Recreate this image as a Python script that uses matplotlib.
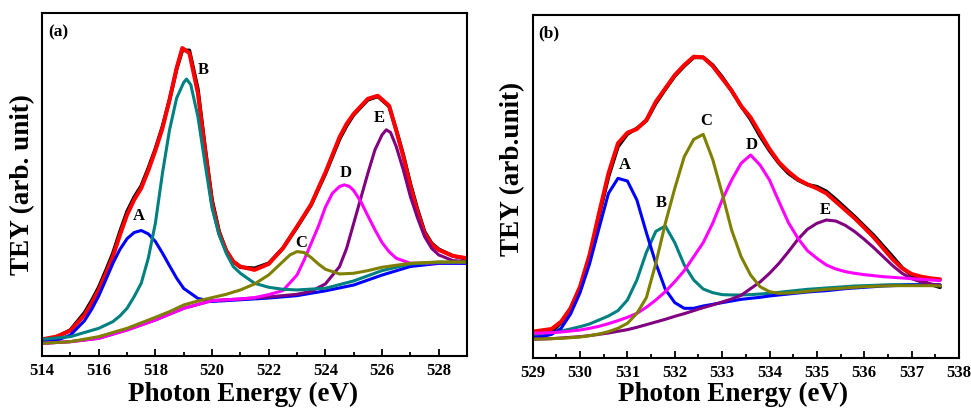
import matplotlib
matplotlib.use("Agg")
import matplotlib.pyplot as plt
from matplotlib.ticker import MultipleLocator

plt.rcParams['font.family'] = ['Liberation Serif', 'DejaVu Serif']
plt.rcParams['font.weight'] = 'bold'
plt.rcParams['lines.solid_joinstyle'] = 'round'
plt.rcParams['lines.solid_capstyle'] = 'round'

# ---------------- panel (a): Fe L-edge region ----------------
a_fit_x = [514, 514.5, 515, 515.5, 515.75, 516, 516.25, 516.5, 516.75, 517, 517.25, 517.5,
           517.75, 518, 518.25, 518.5, 518.75, 518.95, 519.2, 519.5, 519.75, 520, 520.25,
           520.5, 520.75, 521, 521.5, 522, 522.5, 523, 523.5, 523.75, 524, 524.25, 524.5,
           524.75, 525, 525.5, 525.85, 526.25, 526.5, 526.75, 527, 527.25, 527.5, 527.75,
           528, 528.5, 529]
a_data = [4.47, 5.45, 7.59, 12.65, 16.15, 20.04, 24.90, 29.96, 36.28, 42.12, 46.30, 49.61,
          54.77, 60.41, 66.93, 74.71, 83.66, 89.11, 89.11, 77.82, 61.09, 45.53, 36.28,
          30.74, 27.53, 25.88, 25.58, 27.04, 31.42, 37.55, 44.07, 48.64, 53.11, 58.17,
          63.23, 67.12, 70.33, 74.71, 75.68, 72.76, 65.95, 58.66, 50.19, 42.80, 36.28,
          32.88, 31.13, 29.18, 28.31]
a_fit = [4.86, 5.64, 7.39, 11.96, 15.37, 19.26, 23.93, 28.99, 35.31, 41.15, 45.53, 48.93,
         54.09, 59.92, 66.44, 74.71, 83.95, 89.79, 88.33, 76.65, 60.12, 44.55, 35.80,
         30.74, 27.53, 26.07, 25.10, 26.85, 31.42, 37.74, 44.26, 48.93, 53.50, 58.66,
         63.81, 67.70, 70.62, 75.00, 75.88, 72.96, 65.76, 58.17, 49.61, 42.12, 35.80,
         32.59, 30.93, 29.18, 28.50]

a_pkA_x = [514, 514.5, 515, 515.5, 515.75, 516, 516.25, 516.5, 516.75, 517, 517.25, 517.5,
           517.75, 518, 518.25, 518.5, 518.75, 519, 519.5, 520, 521, 522, 523, 524, 525,
           526, 527, 528, 529]
a_pkA = [4.2, 4.5, 6.1, 10.3, 13.6, 17.5, 22.2, 27.0, 31.1, 34.2, 36.0, 36.6,
         35.6, 33.4, 30.0, 26.3, 22.7, 19.7, 16.8, 15.9, 16.4, 16.9, 17.6, 19.0, 20.7,
         23.6, 26.1, 27.0, 27.0]

a_pkB_x = [514, 515, 516, 516.5, 516.75, 517, 517.25, 517.5, 517.75, 518, 518.25, 518.5,
           518.75, 519, 519.1, 519.25, 519.5, 519.75, 520, 520.25, 520.5, 520.75, 521,
           521.5, 522, 522.5, 523, 524, 525, 526, 527, 528, 529]
a_pkB = [4.86, 5.64, 8.07, 10.02, 11.7, 13.91, 17.3, 21.21, 28.5, 38.72, 53.31, 65.95,
         75.19, 79.77, 80.74, 79.09, 69.84, 56.23, 43.09, 35.31, 29.96, 26.07, 24.12,
         21.21, 20.04, 19.46, 19.26, 19.75, 21.89, 24.90, 26.85, 27.33, 27.33]

a_pkC_x = [514, 515, 516, 517, 518, 518.5, 519, 519.5, 520, 520.5, 521, 521.5, 522,
           522.5, 522.75, 523, 523.25, 523.5, 523.75, 524, 524.5, 525, 525.5, 526, 527,
           528, 529]
a_pkC = [3.70, 4.18, 5.64, 8.07, 11.28, 12.94, 14.88, 16.05, 17.02, 17.99, 19.26, 21.01,
         23.64, 27.53, 29.47, 30.45, 30.16, 28.70, 26.85, 25.29, 23.93, 24.12, 24.90,
         25.88, 27.04, 27.43, 27.43]

a_pkD_x = [514, 515, 516, 517, 518, 519, 520, 521, 521.5, 522, 522.5, 523, 523.25, 523.5,
           523.75, 524, 524.25, 524.5, 524.67, 524.85, 525, 525.25, 525.5, 525.75, 526,
           526.25, 526.5, 527, 527.5, 528, 529]
a_pkD = [3.70, 4.18, 5.16, 7.59, 10.51, 13.91, 16.15, 16.63, 17.02, 17.90, 19.07, 23.64,
         28.0, 32.88, 37.74, 43.39, 47.47, 49.42, 49.90, 49.42, 48.25, 45.04, 40.86,
         36.8, 33.07, 30.4, 28.50, 27.04, 27.04, 27.24, 27.24]

a_pkE_x = [514, 515, 516, 517, 518, 519, 520, 521, 522, 523, 523.5, 524, 524.5, 524.75,
           525, 525.25, 525.5, 525.75, 526, 526.15, 526.3, 526.5, 526.75, 527, 527.25,
           527.5, 527.75, 528, 528.5, 529]
a_pkE = [3.70, 4.18, 5.16, 7.59, 10.51, 13.91, 16.15, 16.63, 17.22, 18.00, 18.87, 21.01,
         26.07, 31.4, 38.72, 46.01, 53.31, 60.12, 64.49, 65.95, 65.18, 61.09, 54.28,
         46.50, 40.3, 34.82, 31.4, 29.47, 27.82, 27.53]

# ---------------- panel (b): O K-edge region ----------------
b_x = [529.0, 529.2, 529.4, 529.6, 529.8, 530.0, 530.2, 530.4, 530.6, 530.8, 531.0,
       531.2, 531.4, 531.6, 531.8, 532.0, 532.2, 532.4, 532.6, 532.8, 533.0, 533.2,
       533.4, 533.6, 533.8, 534.0, 534.2, 534.4, 534.6, 534.8, 535.0, 535.2, 535.4,
       535.6, 535.8, 536.0, 536.2, 536.4, 536.6, 536.8, 537.0, 537.2, 537.4, 537.6]
b_data = [6.79, 6.98, 7.76, 10.38, 14.55, 20.66, 29.58, 41.42, 52.86, 61.59, 65.28,
          66.93, 69.16, 74.20, 78.28, 82.15, 85.06, 87.58, 87.58, 85.35, 81.86, 77.88,
          73.42, 69.54, 64.69, 60.43, 56.74, 53.83, 51.89, 50.53, 49.95, 48.59, 46.26,
          43.74, 41.22, 38.51, 35.79, 32.69, 29.58, 26.38, 24.15, 22.50, 21.53, 20.66]
b_fit = [7.76, 8.15, 8.54, 10.67, 14.55, 20.85, 30.07, 42.19, 53.83, 62.56, 65.66,
         66.73, 69.35, 74.68, 78.56, 82.44, 85.35, 87.78, 87.58, 85.06, 81.47, 77.88,
         73.42, 70.13, 65.47, 60.91, 57.03, 54.32, 52.09, 50.63, 49.47, 48.01, 45.59,
         43.16, 40.74, 38.02, 35.21, 32.01, 28.81, 26.19, 24.54, 23.76, 23.28, 22.99]
b_pkA = [6.11, 6.30, 6.98, 8.73, 12.90, 19.11, 27.45, 37.83, 48.01, 52.38, 51.60,
         46.07, 36.57, 27.64, 20.08, 16.20, 14.55, 14.55, 15.23, 15.71, 16.20, 16.68,
         17.17, 17.46, 17.75, 18.14, 18.43, 18.72, 19.01, 19.30, 19.50, 19.69, 19.98,
         20.27, 20.47, 20.66, 20.85, 21.05, 21.14, 21.24, 21.34, 21.34, 21.34, 21.34]
b_pkB = [6.69, 7.08, 7.47, 7.95, 8.54, 9.21, 9.99, 11.15, 12.32, 13.87, 16.97,
         22.79, 30.84, 36.95, 38.51, 33.66, 27.16, 22.79, 20.17, 19.11, 18.53, 18.43,
         18.43, 18.53, 18.72, 18.91, 19.20, 19.50, 19.79, 20.08, 20.27, 20.47, 20.66,
         20.85, 21.05, 21.14, 21.24, 21.34, 21.44, 21.44, 21.44, 21.44, 21.44, 21.44]
b_pkC = [5.63, 5.63, 5.72, 5.82, 6.01, 6.21, 6.60, 7.08, 7.76, 8.73, 10.18,
         13.09, 17.65, 27.64, 39.28, 49.47, 58.68, 63.72, 65.18, 57.91, 48.01, 37.34,
         29.58, 24.25, 20.85, 19.40, 18.91, 19.01, 19.20, 19.50, 19.79, 20.08, 20.27,
         20.47, 20.66, 20.85, 20.95, 21.05, 21.14, 21.14, 21.14, 21.14, 21.14, 21.05]
b_pkD = [7.27, 7.37, 7.47, 7.66, 7.95, 8.24, 8.73, 9.31, 10.09, 10.96, 11.93,
         13.09, 14.84, 16.97, 19.40, 22.31, 25.51, 29.58, 33.66, 39.28, 46.07, 51.89,
         56.74, 59.17, 56.26, 51.89, 45.59, 39.48, 34.92, 31.33, 29.10, 27.16, 25.99,
         25.22, 24.73, 24.35, 24.05, 23.76, 23.57, 23.38, 23.18, 22.99, 22.79, 22.60]
b_pkE = [5.53, 5.63, 5.72, 5.92, 6.11, 6.30, 6.60, 6.98, 7.37, 7.86, 8.34,
         9.02, 9.80, 10.57, 11.35, 12.22, 13.00, 13.87, 14.74, 15.52, 16.39, 17.26,
         18.33, 20.27, 22.21, 24.73, 27.64, 31.04, 34.63, 37.54, 39.28, 40.25, 39.96,
         38.70, 36.86, 34.63, 32.20, 29.58, 26.96, 24.73, 23.18, 22.21, 21.63, 21.24]

# peak letters: (x, y) in data units
a_tags = {'A': (517.4, 40.7), 'B': (519.7, 83.5), 'C': (523.15, 32.9),
          'D': (524.7, 53.5), 'E': (525.9, 69.4)}
b_tags = {'A': (530.94, 56.4), 'B': (531.72, 45.1), 'C': (532.67, 69.2),
          'D': (533.62, 62.1), 'E': (535.17, 43.2)}

c_blue, c_teal, c_olive = '#0000ff', '#008080', '#808000'
c_mag, c_purp = '#ff00ff', '#800080'
lw = 2.2

fig = plt.figure(figsize=(9.71, 4.11), dpi=100)
ax_a = fig.add_axes([0.0433, 0.1338, 0.4377, 0.8345])
ax_b = fig.add_axes([0.5486, 0.1282, 0.4390, 0.8360])

# panel (a)
ax_a.plot(a_fit_x, a_data, color='black', lw=2.6)
ax_a.plot(a_fit_x, a_fit, color='red', lw=2.9)
ax_a.plot(a_pkA_x, a_pkA, color=c_blue, lw=lw)
ax_a.plot(a_pkE_x, a_pkE, color=c_purp, lw=lw)
ax_a.plot(a_pkD_x, a_pkD, color=c_mag, lw=lw)
ax_a.plot(a_pkB_x, a_pkB, color=c_teal, lw=lw)
ax_a.plot(a_pkC_x, a_pkC, color=c_olive, lw=lw)

# panel (b)
ax_b.plot(b_x, b_data, color='black', lw=2.6)
ax_b.plot(b_x, b_fit, color='red', lw=2.9)
ax_b.plot(b_x, b_pkB, color=c_teal, lw=lw)
ax_b.plot(b_x, b_pkA, color=c_blue, lw=lw)
ax_b.plot(b_x, b_pkE, color=c_purp, lw=lw)
ax_b.plot(b_x, b_pkD, color=c_mag, lw=lw)
ax_b.plot(b_x, b_pkC, color=c_olive, lw=lw)

for ax, tags in ((ax_a, a_tags), (ax_b, b_tags)):
    for name, (tx, ty) in tags.items():
        ax.text(tx, ty, name, ha='center', va='center', fontsize=12, fontweight='bold')

ax_a.set_xlim(514, 529)
ax_b.set_xlim(529, 538)
ax_a.xaxis.set_major_locator(MultipleLocator(2))
ax_a.xaxis.set_minor_locator(MultipleLocator(1))
ax_b.xaxis.set_major_locator(MultipleLocator(1))
ax_b.xaxis.set_minor_locator(MultipleLocator(0.5))

for ax, panel, ylab, ylc, xlc in ((ax_a, '(a)', 'TEY (arb. unit)', (-0.046, 0.5), (0.474, -0.076)),
                                  (ax_b, '(b)', 'TEY (arb.unit)', (-0.048, 0.55), (0.47, -0.069))):
    ax.set_ylim(0, 100)
    ax.set_yticks([])
    ax.tick_params(axis='x', which='major', direction='in', length=5, width=1.3,
                   labelsize=12, pad=5)
    ax.tick_params(axis='x', which='minor', direction='in', length=3, width=1.3)
    for s in ax.spines.values():
        s.set_linewidth(1.5)
    ax.text(0.014, 0.945, panel, transform=ax.transAxes, fontsize=12.5,
            fontweight='bold', ha='left', va='center')
    ax.set_ylabel(ylab, fontsize=19.5, fontweight='bold', va='center')
    ax.yaxis.set_label_coords(*ylc)
    ax.set_xlabel('Photon Energy (eV)', fontsize=19.5, fontweight='bold', va='top')
    ax.xaxis.set_label_coords(*xlc)

fig.savefig('out.png', dpi=100)
